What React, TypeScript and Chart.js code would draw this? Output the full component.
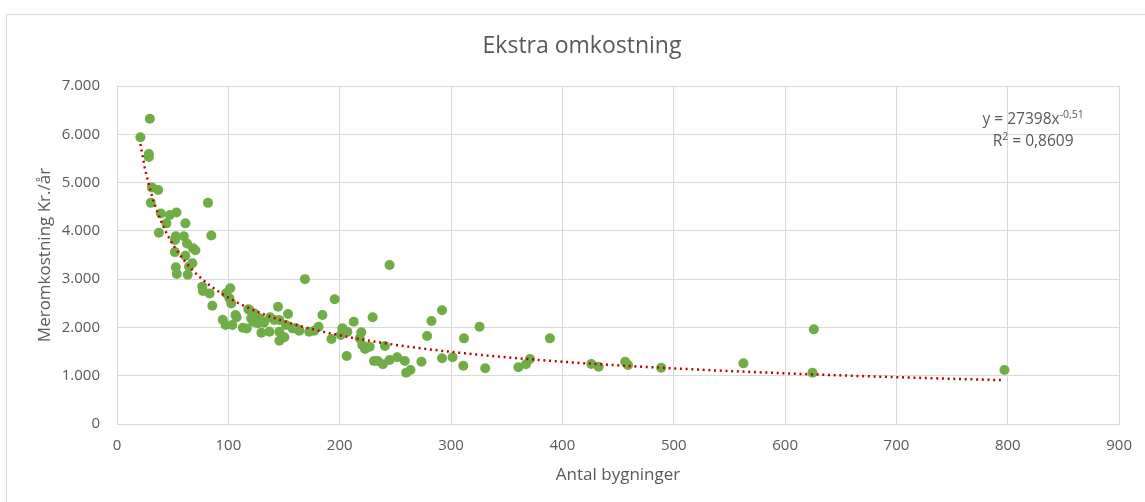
import React, { useEffect, useRef } from 'react';
import { Chart, registerables } from 'chart.js';

Chart.register(...registerables);

// Antal bygninger (x) and Meromkostning Kr./år (y)
const buildings = [
  21, 29.5, 28.6, 28.6, 31.3, 37, 30.4, 39.4, 47.4, 53.4,
  44.4, 37.6, 61.4, 81.7, 84.7, 52.8, 60, 52, 62.9, 68.3,
  70.4, 52, 61.4, 67.7, 64.7, 52.8, 53.7, 63.5, 76.6, 77.2,
  83.2, 101.7, 98, 101, 102.6, 85.6, 95, 97.5, 103.5, 106.4,
  107.5, 113, 116.5, 118, 120.5, 125, 128, 122.5, 126.4, 144.6,
  153.6, 137.5, 141.3, 145.8, 129.7, 136.9, 145.8, 148.2, 145.8, 150.3,
  151.8, 157.7, 163.7, 168.8, 172.6, 177.1, 181, 184.5, 192.6, 195.5,
  202.4, 206.9, 201, 206.3, 212.6, 229.6, 219.4, 218, 220.3, 222.7,
  226.9, 240.6, 244.8, 230.8, 234.3, 238.8, 244.8, 251.6, 258.5, 259.7,
  263.6, 273.4, 278.5, 282.4, 291.9, 291.9, 301.4, 311, 311.6, 325.6,
  330.7, 360.5, 367.3, 370.9, 388.8, 426, 432.6, 456.4, 458.9, 488.7,
  562.6, 625.8, 624.6, 797, 119, 123.4, 129.4, 132, 160.7, 163.7,
];
const extraCost = [
  5940, 6320, 5590, 5530, 4900, 4845, 4580, 4360, 4330, 4380,
  4155, 3960, 4155, 4580, 3905, 3890, 3890, 3810, 3740, 3640,
  3600, 3560, 3485, 3330, 3260, 3245, 3105, 3090, 2845, 2755,
  2705, 2810, 2706, 2602, 2498, 2450, 2160, 2050, 2050, 2257,
  2209, 1995, 1980, 2374, 2188, 2222, 2188, 2118, 2085, 2430,
  2277, 2209, 2153, 2153, 1890, 1911, 1911, 1795, 1725, 1795,
  2050, 1981, 1946, 3000, 1911, 1932, 2015, 2257, 1760, 2582,
  1981, 1911, 1843, 1408, 2118, 2209, 1898, 1774, 1636, 1553,
  1601, 1615, 3292, 1304, 1304, 1236, 1325, 1381, 1304, 1062,
  1118, 1290, 1822, 2133, 2354, 1360, 1381, 1207, 1774, 2015,
  1153, 1174, 1236, 1346, 1774, 1242, 1186, 1290, 1221, 1166,
  1256, 1960, 1063, 1118, 2360, 2290, 2150, 2100, 1981, 1932,
];

// Power trendline shown in the chart: y = 27398 x^-0,51, R² = 0,8609
const trendCoef = 27398;
const trendExp = -0.51;
const rSquared = 0.8609;

const titleText = 'Ekstra omkostning';
const xTitle = 'Antal bygninger';
const yTitle = 'Meromkostning Kr./år';

const TEXT = '#595959';
const GRID = '#d9d9d9';
const FONT = "'Open Sans', 'Noto Sans', sans-serif";

const fmtThousands = (v: number) => String(v).replace(/\B(?=(\d{3})+(?!\d))/g, '.');
const fmtComma = (v: number) => String(v).replace('.', ',');

const equationLabel = {
  id: 'equationLabel',
  afterDatasetsDraw(chart: any) {
    const { ctx, chartArea } = chart;
    const cx = chartArea.right - 86;
    ctx.save();
    ctx.fillStyle = TEXT;
    ctx.textBaseline = 'middle';
    ctx.textAlign = 'left';
    const main = `y = ${trendCoef}x`;
    const sup = fmtComma(trendExp);
    ctx.font = `15.5px ${FONT}`;
    const wMain = ctx.measureText(main).width;
    ctx.font = `10.5px ${FONT}`;
    const wSup = ctx.measureText(sup).width;
    const x0 = cx - (wMain + wSup) / 2;
    const y1 = chartArea.top + 34;
    ctx.font = `15.5px ${FONT}`;
    ctx.fillText(main, x0, y1);
    ctx.font = `10.5px ${FONT}`;
    ctx.fillText(sup, x0 + wMain, y1 - 5);
    // R² line: "R" + superscript 2 + rest
    const r = 'R';
    const two = '2';
    const rest = ` = ${fmtComma(rSquared)}`;
    ctx.font = `15.5px ${FONT}`;
    const wR = ctx.measureText(r).width;
    const wRest = ctx.measureText(rest).width;
    ctx.font = `10.5px ${FONT}`;
    const wTwo = ctx.measureText(two).width;
    const x1 = cx - (wR + wTwo + wRest) / 2;
    const y2 = chartArea.top + 56;
    ctx.font = `15.5px ${FONT}`;
    ctx.fillText(r, x1, y2);
    ctx.font = `10.5px ${FONT}`;
    ctx.fillText(two, x1 + wR, y2 - 5);
    ctx.font = `15.5px ${FONT}`;
    ctx.fillText(rest, x1 + wR + wTwo, y2);
    ctx.restore();
  },
};

export default function App() {
  const ref = useRef<HTMLCanvasElement | null>(null);

  useEffect(() => {
    if (!ref.current) return;
    const points = buildings.map((x, i) => ({ x, y: extraCost[i] }));
    const xMin = Math.min(...buildings);
    const xMax = Math.max(...buildings);
    const trend: { x: number; y: number }[] = [];
    const n = 200;
    for (let i = 0; i <= n; i++) {
      const x = xMin + ((xMax - xMin) * i) / n;
      trend.push({ x, y: trendCoef * Math.pow(x, trendExp) });
    }

    const chart = new Chart(ref.current, {
      type: 'scatter',
      data: {
        datasets: [
          {
            label: 'Tendens',
            data: trend,
            showLine: true,
            borderColor: '#C00000',
            borderWidth: 2.5,
            borderDash: [2, 3.7],
            pointRadius: 0,
            fill: false,
            tension: 0,
          } as any,
          {
            label: 'Meromkostning',
            data: points,
            pointRadius: 5,
            pointHoverRadius: 5,
            backgroundColor: '#70AD47',
            borderColor: '#70AD47',
            borderWidth: 0,
          },
        ],
      },
      options: {
        responsive: false,
        animation: false,
        events: [],
        layout: { padding: { left: 41, right: 22, top: 0, bottom: 0 } },
        plugins: {
          legend: { display: false },
          tooltip: { enabled: false },
          title: {
            display: true,
            text: titleText,
            color: TEXT,
            font: { family: FONT, size: 23, weight: 'normal' },
            padding: { top: 33, bottom: 25.4 },
          },
        },
        scales: {
          x: {
            type: 'linear',
            min: 0,
            max: 900,
            ticks: { stepSize: 100, padding: 13, color: TEXT, font: { family: FONT, size: 15 } },
            grid: { color: GRID, drawTicks: false, lineWidth: 1 },
            border: { color: GRID },
            title: {
              display: true,
              text: xTitle,
              color: TEXT,
              font: { family: FONT, size: 17 },
              padding: { top: 0, bottom: 17 },
            },
            afterFit: (s: any) => {
              s.height = 78;
            },
          },
          y: {
            type: 'linear',
            min: 0,
            max: 7000,
            ticks: {
              stepSize: 1000,
              padding: 17,
              color: TEXT,
              font: { family: FONT, size: 15 },
              callback: (v: any) => fmtThousands(Number(v)),
            },
            grid: { color: GRID, drawTicks: false, lineWidth: 1 },
            border: { color: GRID },
            title: {
              display: true,
              text: yTitle,
              color: TEXT,
              font: { family: FONT, size: 17 },
              padding: { top: -6, bottom: 0 },
            },
            afterFit: (s: any) => {
              s.width = 76;
            },
          },
        },
      } as any,
      plugins: [equationLabel],
    });
    return () => chart.destroy();
  }, []);

  return (
    <div
      style={{
        position: 'fixed',
        left: 0,
        top: 0,
        width: 1145,
        height: 502,
        overflow: 'hidden',
        background: '#ffffff',
      }}
    >
      <div
        style={{
          position: 'absolute',
          left: 6,
          top: 14,
          width: 1150,
          height: 500,
          border: `1px solid ${GRID}`,
          boxSizing: 'border-box',
        }}
      />
      <canvas
        ref={ref}
        width={1145}
        height={502}
        style={{ position: 'absolute', left: 0, top: 0, width: 1145, height: 502 }}
      />
    </div>
  );
}
